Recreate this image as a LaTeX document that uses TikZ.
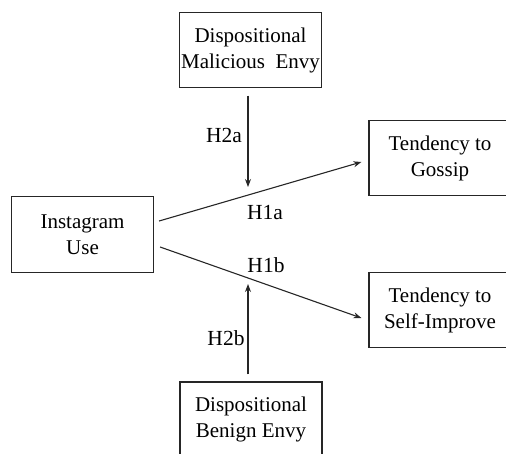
\documentclass[tikz,border=0pt]{standalone}
\usepackage{fontspec}
\setmainfont{Liberation Serif}
\usetikzlibrary{arrows.meta,calc}
\begin{document}
\begin{tikzpicture}[x=1pt,y=-1pt,
  box/.style={draw=black!85,line width=1.2pt,minimum width=142pt,minimum height=75pt,
    align=center,inner sep=0pt,font=\fontsize{21}{26}\selectfont},
  lbl/.style={inner sep=0pt,font=\fontsize{21.5}{26}\selectfont},
  conn/.style={draw=black!85,line width=1.1pt,-{Stealth[length=8pt,width=6pt]}}]
\useasboundingbox (0,0) rectangle (506,453);
\node[box] (mal) at (250.5,50) {Dispositional\\Malicious\ \ Envy};
\node[box] (gos) at (440,158) {Tendency to\\Gossip};
\node[box,minimum height=76pt] (ins) at (82.5,234.5) {Instagram\\Use};
\node[box] (self) at (440,310) {Tendency to\\Self-Improve};
\node[box] (ben) at (251,419.5) {Dispositional\\Benign Envy};
\coordinate (m1) at (248,187);
\coordinate (b1) at (248,284);
\draw[conn] ([shift={(5,-13.5)}]ins.east) -- ([shift={(-7,4)}]gos.west);
\draw[conn] ([shift={(6,12.5)}]ins.east) -- ([shift={(-7,8)}]self.west);
\draw[conn] ([shift={(-2.5,7.5)}]mal.south) -- (m1);
\draw[conn] ([shift={(-3,-7)}]ben.north) -- (b1);
\node[lbl] (h2a) at (224,135) {H2a};
\node[lbl] (h1a) at (265,213) {H1a};
\node[lbl] (h1b) at (266,265) {H1b};
\node[lbl] (h2b) at (226,338) {H2b};
\end{tikzpicture}
\end{document}
